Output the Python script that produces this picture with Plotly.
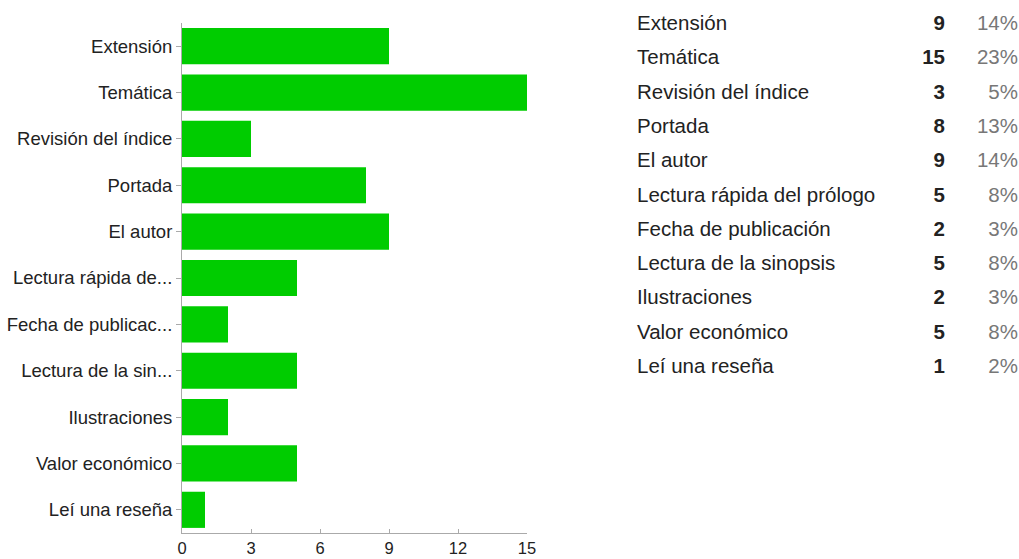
import plotly.graph_objects as go

# Data
axis_labels = ["Extensión", "Temática", "Revisión del índice", "Portada", "El autor",
               "Lectura rápida de...", "Fecha de publicac...", "Lectura de la sin...",
               "Ilustraciones", "Valor económico", "Leí una reseña"]
full_labels = ["Extensión", "Temática", "Revisión del índice", "Portada", "El autor",
               "Lectura rápida del prólogo", "Fecha de publicación", "Lectura de la sinopsis",
               "Ilustraciones", "Valor económico", "Leí una reseña"]
counts = [9, 15, 3, 8, 9, 5, 2, 5, 2, 5, 1]
percents = ["14%", "23%", "5%", "13%", "14%", "8%", "3%", "8%", "3%", "8%", "2%"]
x_ticks = [0, 3, 6, 9, 12, 15]

W, H = 1019, 559
FONT = "Liberation Sans, Arial, sans-serif"
AX_SIZE = 18.5
XT_SIZE = 16.5
TB_SIZE = 20.5

fig = go.Figure()
fig.add_trace(go.Bar(
    x=counts, y=axis_labels, orientation="h",
    marker=dict(color="#00cc00", line=dict(width=0)),
    xaxis="x", yaxis="y", hoverinfo="x+y",
))

# Table on the right
fig.add_trace(go.Scatter(
    x=[637] * len(full_labels), y=full_labels, mode="text", text=full_labels,
    textposition="middle right", textfont=dict(family=FONT, size=TB_SIZE, color="#222222"),
    xaxis="x2", yaxis="y2", hoverinfo="skip", cliponaxis=False,
))
fig.add_trace(go.Scatter(
    x=[945] * len(full_labels), y=full_labels, mode="text",
    text=[f"<b>{c}</b>" for c in counts],
    textposition="middle left", textfont=dict(family=FONT, size=TB_SIZE, color="#222222"),
    xaxis="x2", yaxis="y2", hoverinfo="skip", cliponaxis=False,
))
fig.add_trace(go.Scatter(
    x=[1018] * len(full_labels), y=full_labels, mode="text", text=percents,
    textposition="middle left", textfont=dict(family=FONT, size=TB_SIZE, color="#777777"),
    xaxis="x2", yaxis="y2", hoverinfo="skip", cliponaxis=False,
))

fig.update_layout(
    width=W, height=H,
    margin=dict(l=0, r=0, t=0, b=0, autoexpand=False),
    paper_bgcolor="white", plot_bgcolor="rgba(0,0,0,0)",
    showlegend=False,
    bargap=0.22,
    font=dict(family=FONT, size=AX_SIZE, color="#222222"),
    xaxis=dict(
        domain=[182 / W, 527 / W], range=[0, 15], tickvals=x_ticks,
        showgrid=False, zeroline=False, showline=True, linecolor="#aaaaaa", linewidth=1,
        ticks="inside", ticklen=4, tickcolor="#aaaaaa",
        tickfont=dict(family=FONT, size=XT_SIZE, color="#222222"),
        anchor="y", automargin=False,
    ),
    yaxis=dict(
        domain=[(H - 533) / H, (H - 23) / H],
        categoryorder="array", categoryarray=axis_labels, autorange="reversed",
        showgrid=False, zeroline=False, showline=True, linecolor="#aaaaaa", linewidth=1,
        ticks="outside", ticklen=5, tickcolor="#aaaaaa",
        tickfont=dict(family=FONT, size=AX_SIZE, color="#222222"),
        anchor="x", automargin=False,
    ),
    xaxis2=dict(domain=[0, 1], range=[0, W], visible=False, anchor="y2", automargin=False),
    yaxis2=dict(
        domain=[(H - 387) / H, (H - 6) / H],
        categoryorder="array", categoryarray=full_labels, autorange="reversed",
        visible=False, anchor="x2", automargin=False,
    ),
)

fig.write_html("out.html", config={"displayModeBar": False},
               post_script="document.body.style.margin='0';")
